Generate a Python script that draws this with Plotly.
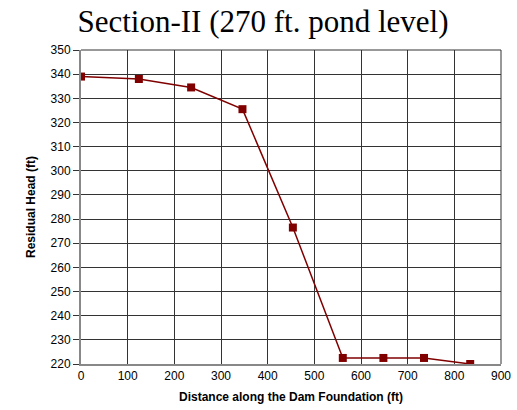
import plotly.graph_objects as go

distance = [0, 124, 236, 346, 454, 561, 648, 735, 834]
residual_head = [339, 338, 334.5, 325.5, 276.5, 222.5, 222.5, 222.5, 220]
x_ticks = [0, 100, 200, 300, 400, 500, 600, 700, 800, 900]
y_ticks = [220, 230, 240, 250, 260, 270, 280, 290, 300, 310, 320, 330, 340, 350]

fig = go.Figure()
fig.add_trace(go.Scatter(
    x=distance, y=residual_head, mode="lines+markers",
    line=dict(color="#800000", width=1.5),
    marker=dict(symbol="square", size=8, color="#800000"),
    showlegend=False,
))

fig.update_layout(
    width=517, height=410,
    margin=dict(l=81, r=16, t=50, b=46, autoexpand=False),
    paper_bgcolor="white", plot_bgcolor="white",
    title=dict(text="Section-II (270 ft. pond level)", xref="container", x=263 / 517,
               xanchor="center",
               yref="container", y=1 - 21 / 410, yanchor="middle",
               font=dict(family="Liberation Serif", size=31, color="black")),
    font=dict(family="Liberation Sans", color="black"),
)
fig.update_xaxes(
    range=[0, 900], tickvals=x_ticks, ticktext=[str(v) for v in x_ticks],
    showgrid=True, gridcolor="#333333", gridwidth=1,
    showline=True, linecolor="#888888", linewidth=2, mirror=False,
    zeroline=False, ticks="", tickfont=dict(size=12, family="Liberation Sans"),
    automargin=False,
    title=dict(text="<b>Distance along the Dam Foundation (ft)</b>",
               font=dict(size=12, family="Liberation Sans"), standoff=10),
)
fig.update_yaxes(
    range=[220, 350], tickvals=y_ticks, ticktext=[str(v) for v in y_ticks],
    showgrid=True, gridcolor="#333333", gridwidth=1,
    showline=True, linecolor="#888888", linewidth=2, mirror=False,
    zeroline=False, ticks="outside", ticklen=6, tickcolor="#333333",
    tickfont=dict(size=12, family="Liberation Sans"),
    automargin=False,
    title=dict(text="<b>Residual Head (ft)</b>",
               font=dict(size=12, family="Liberation Sans"), standoff=12),
)
# right and top border lines
fig.add_shape(type="line", xref="paper", yref="paper", x0=1, x1=1, y0=0, y1=1,
              line=dict(color="#333333", width=1))
fig.add_shape(type="line", xref="paper", yref="paper", x0=0, x1=1, y0=1, y1=1,
              line=dict(color="#333333", width=1))

fig.write_html(
    "out.html",
    config={"displayModeBar": False},
    post_script="document.body.style.margin='0';document.body.style.overflow='hidden';",
)
